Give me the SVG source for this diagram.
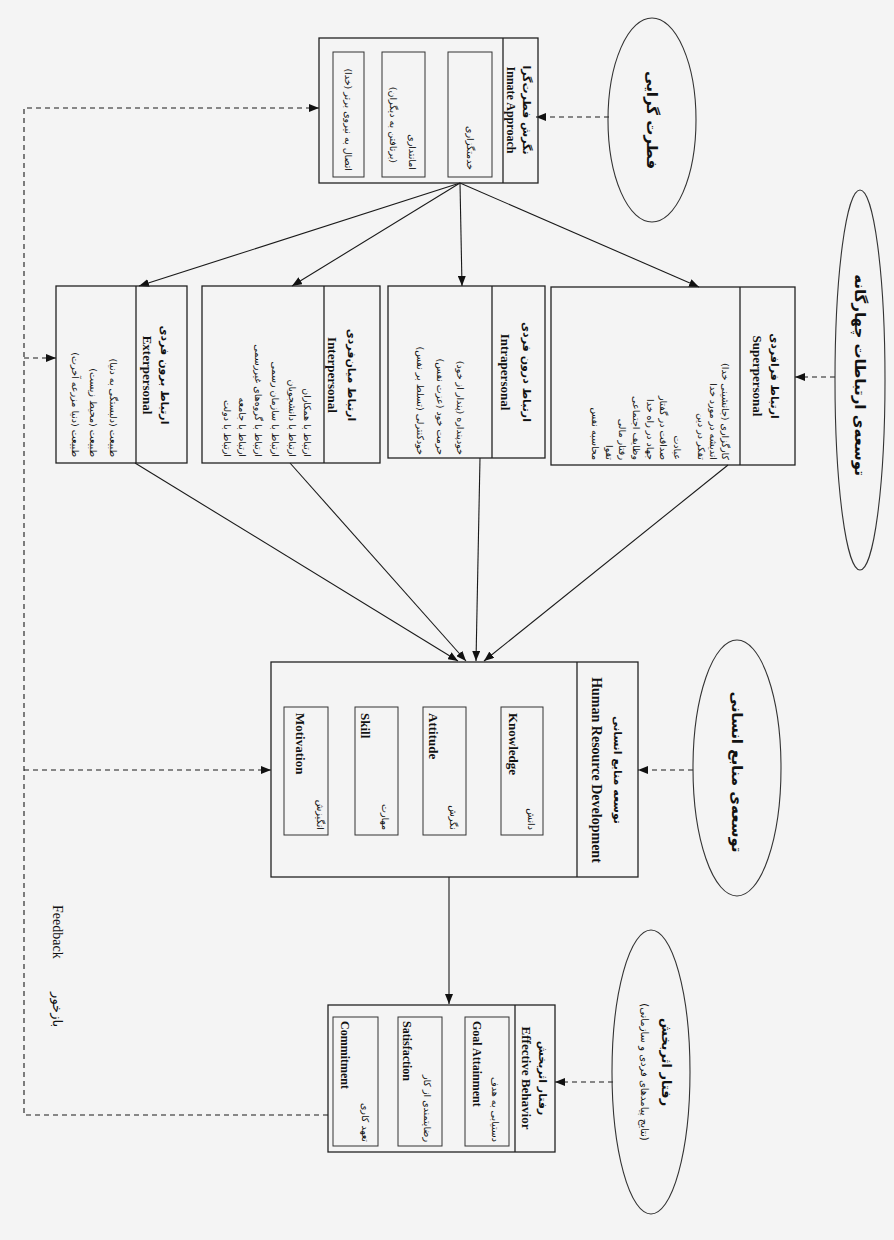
<svg xmlns="http://www.w3.org/2000/svg" width="894" height="1240" viewBox="0 0 894 1240">
<defs>
<marker id="ah" markerUnits="userSpaceOnUse" markerWidth="11" markerHeight="8" refX="10" refY="4" orient="auto">
<path d="M0,0 L10,4 L0,8 z" fill="#111"/>
</marker>
<style>
.box{fill:none;stroke:#222;stroke-width:1.3}
.inner{fill:none;stroke:#333;stroke-width:1}
.ell{fill:none;stroke:#333;stroke-width:1.1}
.ln{fill:none;stroke:#1a1a1a;stroke-width:1.1}
.dash{fill:none;stroke:#1a1a1a;stroke-width:1.1;stroke-dasharray:5 4}
.fa{font-family:"DejaVu Sans",sans-serif;direction:rtl;fill:#111}
.en{font-family:"Liberation Serif",serif;fill:#111}
.it{font-size:9.5px}
.hfa{font-size:11px;font-weight:bold}
.hen{font-size:13px;font-weight:bold}
.ien{font-size:13px;font-weight:bold}
.efa{font-size:15px;font-weight:bold}
</style>
</defs>
<rect x="0" y="0" width="894" height="1240" fill="#f4f4f4"/>
<g transform="translate(894,0) rotate(90)">

<g id="connectors">
<path class="ln" marker-end="url(#ah)" d="M183,434 L287,195"/>
<path class="ln" marker-end="url(#ah)" d="M183,434 L286,432"/>
<path class="ln" marker-end="url(#ah)" d="M183,434 L286,602"/>
<path class="ln" marker-end="url(#ah)" d="M183,434 L286,755"/>
<path class="ln" marker-end="url(#ah)" d="M465,166 L661,410"/>
<path class="ln" marker-end="url(#ah)" d="M458,414 L661,418"/>
<path class="ln" marker-end="url(#ah)" d="M463,604 L661,428"/>
<path class="ln" marker-end="url(#ah)" d="M463,759 L661,436"/>
<path class="ln" marker-end="url(#ah)" d="M877,445 L1004,445"/>
<path class="dash" marker-end="url(#ah)" d="M117,285 L117,358"/>
<path class="dash" marker-end="url(#ah)" d="M377,59 L377,99"/>
<path class="dash" marker-end="url(#ah)" d="M770,201 L770,256"/>
<path class="dash" marker-end="url(#ah)" d="M1082,281 L1082,339"/>
<path class="dash" marker-end="url(#ah)" d="M1115,566 L1115,870 L108,870 L108,575"/>
<path class="dash" marker-end="url(#ah)" d="M358,870 L358,838"/>
<path class="dash" marker-end="url(#ah)" d="M770,870 L770,623"/>
</g>

<g id="ellipse-fitrat">
<ellipse class="ell" cx="120" cy="242" rx="102" ry="44"/>
<text class="fa efa" x="120" y="247" text-anchor="middle">فطرت گرایی</text>
</g>

<g id="ellipse-communication">
<ellipse class="ell" cx="380" cy="34" rx="190" ry="25"/>
<text class="fa efa" x="375" y="39" text-anchor="middle">توسعه‌ی ارتباطات چهارگانه</text>
</g>

<g id="ellipse-hrd">
<ellipse class="ell" cx="768" cy="157" rx="128" ry="44"/>
<text class="fa efa" x="772" y="162" text-anchor="middle">توسعه‌ی منابع انسانی</text>
</g>

<g id="ellipse-behavior">
<ellipse class="ell" cx="1072" cy="243" rx="142" ry="39"/>
<text class="fa" style="font-size:13px;font-weight:bold" x="1062" y="232" text-anchor="middle">رفتار اثربخش</text>
<text class="fa" style="font-size:10px" x="1072" y="253" text-anchor="middle">(نتایج پیامدهای فردی و سازمانی)</text>
</g>

<g id="innate">
<rect class="box" x="38" y="356" width="145" height="219"/>
<line class="box" x1="38" y1="391" x2="183" y2="391"/>
<text class="fa hfa" x="110" y="371" text-anchor="middle">نگرش فطرت‌گرا</text>
<text class="en" style="font-size:12px;font-weight:bold" x="110" y="387" text-anchor="middle">Innate Approach</text>
<rect class="inner" x="52" y="402" width="125" height="44"/>
<text class="fa it" x="170" y="427" text-anchor="start">خدمتگزاری</text>
<rect class="inner" x="52" y="469" width="125" height="43"/>
<text class="fa it" x="170" y="485" text-anchor="start">امانتداری</text>
<text class="fa it" x="163" y="504" text-anchor="start">(برتافتن به دیگران)</text>
<rect class="inner" x="52" y="530" width="125" height="31"/>
<text class="fa it" x="171" y="549" text-anchor="start">اتصال به نیروی برتر (خدا)</text>
</g>

<g id="superpersonal">
<rect class="box" x="287" y="99" width="178" height="244"/>
<line class="box" x1="287" y1="154" x2="465" y2="154"/>
<text class="fa hfa" x="376" y="123" text-anchor="middle">ارتباط فرافردی</text>
<text class="en hen" x="376" y="141" text-anchor="middle">Superpersonal</text>
<text class="fa it" x="460" y="172" text-anchor="start">کارگزاری (جانشینی خدا)</text>
<text class="fa it" x="460" y="184" text-anchor="start">اندیشه در مورد خدا</text>
<text class="fa it" x="460" y="196" text-anchor="start">تفکر در دین</text>
<text class="fa it" x="460" y="220" text-anchor="start">عبادت</text>
<text class="fa it" x="460" y="234" text-anchor="start">صداقت در گفتار</text>
<text class="fa it" x="460" y="247" text-anchor="start">جهاد در راه خدا</text>
<text class="fa it" x="460" y="261" text-anchor="start">وظایف اجتماعی</text>
<text class="fa it" x="460" y="275" text-anchor="start">رفتار مالی</text>
<text class="fa it" x="460" y="288" text-anchor="start">تقوا</text>
<text class="fa it" x="460" y="302" text-anchor="start">محاسبه نفس</text>
</g>

<g id="intrapersonal">
<rect class="box" x="286" y="349" width="172" height="157"/>
<line class="box" x1="286" y1="402" x2="458" y2="402"/>
<text class="fa hfa" x="372" y="371" text-anchor="middle">ارتباط درون فردی</text>
<text class="en hen" x="372" y="393" text-anchor="middle">Intrapersonal</text>
<text class="fa it" x="455" y="437" text-anchor="start">خودپنداره (پندار از خود)</text>
<text class="fa it" x="455" y="457" text-anchor="start">حرمت خود (عزت نفس)</text>
<text class="fa it" x="455" y="477" text-anchor="start">خودکنترلی (تسلط بر نفس)</text>
</g>

<g id="interpersonal">
<rect class="box" x="286" y="514" width="177" height="178"/>
<line class="box" x1="286" y1="570" x2="463" y2="570"/>
<text class="fa hfa" x="375" y="546" text-anchor="middle">ارتباط میان‌فردی</text>
<text class="en hen" x="375" y="566" text-anchor="middle">Interpersonal</text>
<text class="fa it" x="457" y="590" text-anchor="start">ارتباط با همکاران</text>
<text class="fa it" x="457" y="605" text-anchor="start">ارتباط با دانشجویان</text>
<text class="fa it" x="457" y="622" text-anchor="start">ارتباط با سازمان رسمی</text>
<text class="fa it" x="457" y="639" text-anchor="start">ارتباط با گروه‌های غیررسمی</text>
<text class="fa it" x="457" y="655" text-anchor="start">ارتباط با جامعه</text>
<text class="fa it" x="457" y="670" text-anchor="start">ارتباط با دولت</text>
</g>

<g id="exterpersonal">
<rect class="box" x="286" y="707" width="177" height="131"/>
<line class="box" x1="286" y1="758" x2="463" y2="758"/>
<text class="fa hfa" x="375" y="733" text-anchor="middle">ارتباط برون فردی</text>
<text class="en hen" x="375" y="751" text-anchor="middle">Exterpersonal</text>
<text class="fa it" x="457" y="784" text-anchor="start">طبیعت (دلبستگی به دنیا)</text>
<text class="fa it" x="457" y="804" text-anchor="start">طبیعت (محیط زیست)</text>
<text class="fa it" x="457" y="822" text-anchor="start">طبیعت (دنیا مزرعه آخرت)</text>
</g>

<g id="hrd">
<rect class="box" x="662" y="256" width="215" height="367"/>
<line class="box" x1="662" y1="317" x2="877" y2="317"/>
<text class="fa hfa" x="770" y="280" text-anchor="middle">توسعه منابع انسانی</text>
<text class="en" style="font-size:14px;font-weight:bold" x="770" y="302" text-anchor="middle">Human Resource Development</text>
<rect class="inner" x="707" y="351" width="128" height="42"/>
<text class="fa it" x="830" y="366" text-anchor="start">دانش</text>
<text class="en ien" x="713" y="385">Knowledge</text>
<rect class="inner" x="707" y="428" width="128" height="43"/>
<text class="fa it" x="830" y="444" text-anchor="start">نگرش</text>
<text class="en ien" x="713" y="465">Attitude</text>
<rect class="inner" x="707" y="496" width="128" height="43"/>
<text class="fa it" x="830" y="512" text-anchor="start">مهارت</text>
<text class="en ien" x="713" y="533">Skill</text>
<rect class="inner" x="707" y="566" width="128" height="44"/>
<text class="fa it" x="830" y="577" text-anchor="start">انگیزش</text>
<text class="en ien" x="713" y="598">Motivation</text>
</g>

<g id="behavior">
<rect class="box" x="1005" y="339" width="147" height="227"/>
<line class="box" x1="1005" y1="379" x2="1152" y2="379"/>
<text class="fa hfa" x="1078" y="355" text-anchor="middle">رفتار اثربخش</text>
<text class="en hen" x="1078" y="372" text-anchor="middle">Effective Behavior</text>
<rect class="inner" x="1017" y="385" width="129" height="44"/>
<text class="fa it" x="1142" y="402" text-anchor="start">دستیابی به هدف</text>
<text class="en" style="font-size:12px;font-weight:bold" x="1021" y="421">Goal Attainment</text>
<rect class="inner" x="1017" y="452" width="129" height="44"/>
<text class="fa it" x="1142" y="470" text-anchor="start">رضایتمندی از کار</text>
<text class="en" style="font-size:12px;font-weight:bold" x="1021" y="491">Satisfaction</text>
<rect class="inner" x="1017" y="516" width="129" height="45"/>
<text class="fa it" x="1142" y="532" text-anchor="start">تعهد کاری</text>
<text class="en" style="font-size:12px;font-weight:bold" x="1021" y="553">Commitment</text>
</g>

<g id="feedback-label">
<text class="en" style="font-size:14px" x="905" y="841">Feedback</text>
<text class="fa" style="font-size:13px" x="1027" y="841" text-anchor="start">بازخور</text>
</g>

</g>
</svg>
